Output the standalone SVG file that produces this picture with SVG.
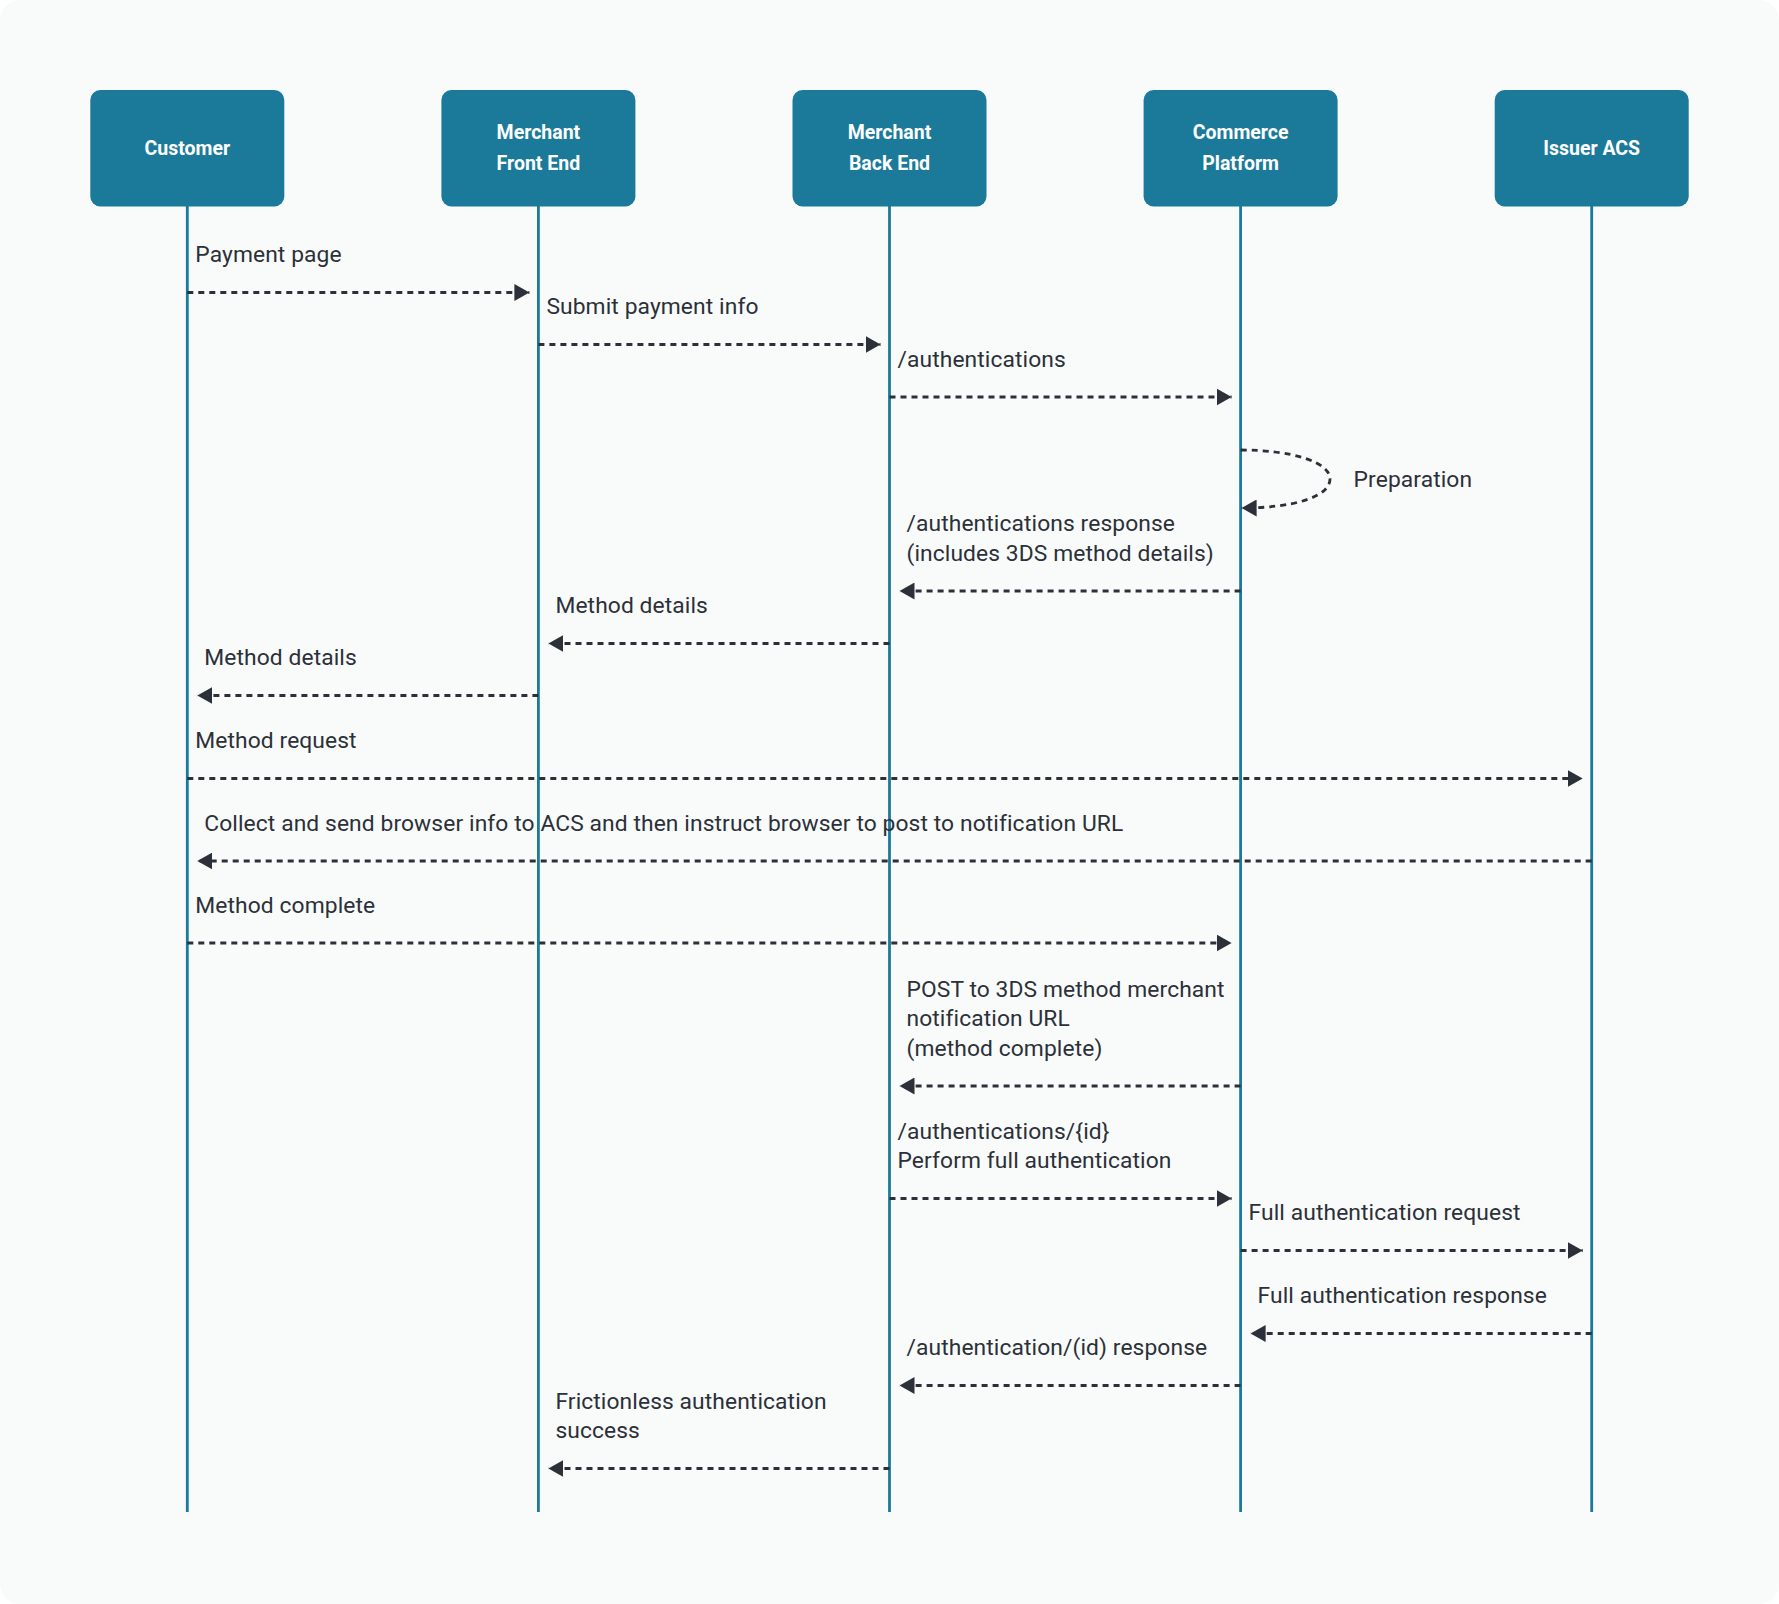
<svg xmlns="http://www.w3.org/2000/svg" width="1779" height="1604" viewBox="0 0 1779 1604">
<defs>
<marker id="ah" markerUnits="userSpaceOnUse" markerWidth="15" markerHeight="17" refX="15" refY="8.5" orient="auto">
<path d="M0,0 L15,8.5 L0,17 z" fill="#2c3038"/>
</marker>
<style>
.box{fill:#1b7a99}
.bt{font-family:Roboto,"Liberation Sans",sans-serif;font-weight:bold;font-size:19.5px;fill:#ffffff;text-anchor:middle}
.life{stroke:#1b7a99;stroke-width:2.8;fill:none}
.msg{stroke:#2c3038;stroke-width:2.8;stroke-dasharray:6 5;fill:none;marker-end:url(#ah)}
.lbl{font-family:Roboto,"Liberation Sans",sans-serif;font-size:22.8px;letter-spacing:0.1px;fill:#2c3038}
</style>
</defs>
<rect x="0" y="0" width="1779" height="1604" fill="#ffffff"/>
<rect x="0" y="0" width="1779" height="1604" rx="20" fill="#f9fbfb"/>

<g id="lifelines">
<line class="life" x1="187.3" y1="206" x2="187.3" y2="1512"/>
<line class="life" x1="538.4" y1="206" x2="538.4" y2="1512"/>
<line class="life" x1="889.5" y1="206" x2="889.5" y2="1512"/>
<line class="life" x1="1240.6" y1="206" x2="1240.6" y2="1512"/>
<line class="life" x1="1591.7" y1="206" x2="1591.7" y2="1512"/>
</g>

<g id="customer">
<rect class="box" x="90.3" y="90" width="194" height="116.5" rx="10"/>
<text class="bt" x="187.3" y="155">Customer</text>
</g>
<g id="merchant-front-end">
<rect class="box" x="441.4" y="90" width="194" height="116.5" rx="10"/>
<text class="bt" x="538.4" y="139">Merchant</text>
<text class="bt" x="538.4" y="169.5">Front End</text>
</g>
<g id="merchant-back-end">
<rect class="box" x="792.5" y="90" width="194" height="116.5" rx="10"/>
<text class="bt" x="889.5" y="139">Merchant</text>
<text class="bt" x="889.5" y="169.5">Back End</text>
</g>
<g id="commerce-platform">
<rect class="box" x="1143.6" y="90" width="194" height="116.5" rx="10"/>
<text class="bt" x="1240.6" y="139">Commerce</text>
<text class="bt" x="1240.6" y="169.5">Platform</text>
</g>
<g id="issuer-acs">
<rect class="box" x="1494.7" y="90" width="194" height="116.5" rx="10"/>
<text class="bt" x="1591.7" y="155">Issuer ACS</text>
</g>

<g id="connectors">
<line class="msg" x1="187.3" y1="292.5" x2="529.4" y2="292.5"/>
<line class="msg" x1="538.4" y1="344.5" x2="880.5" y2="344.5"/>
<line class="msg" x1="889.5" y1="397" x2="1231.6" y2="397"/>
<path class="msg" d="M1240.6,450 C1292,450 1330,462 1330,479 C1330,497 1293,508 1241.6,508"/>
<line class="msg" x1="1240.6" y1="591" x2="899.5" y2="591"/>
<line class="msg" x1="889.5" y1="643.5" x2="548.4" y2="643.5"/>
<line class="msg" x1="538.4" y1="695.5" x2="197.3" y2="695.5"/>
<line class="msg" x1="187.3" y1="778.5" x2="1582.7" y2="778.5"/>
<line class="msg" x1="1591.7" y1="861" x2="197.3" y2="861"/>
<line class="msg" x1="187.3" y1="943" x2="1231.6" y2="943"/>
<line class="msg" x1="1240.6" y1="1086" x2="899.5" y2="1086"/>
<line class="msg" x1="889.5" y1="1198.5" x2="1231.6" y2="1198.5"/>
<line class="msg" x1="1240.6" y1="1250.5" x2="1582.7" y2="1250.5"/>
<line class="msg" x1="1591.7" y1="1333.5" x2="1250.6" y2="1333.5"/>
<line class="msg" x1="1240.6" y1="1385.5" x2="899.5" y2="1385.5"/>
<line class="msg" x1="889.5" y1="1468.5" x2="548.4" y2="1468.5"/>
</g>

<g id="labels">
<text class="lbl" x="195.3" y="262">Payment page</text>
<text class="lbl" x="546.4" y="314">Submit payment info</text>
<text class="lbl" x="897.5" y="366.5">/authentications</text>
<text class="lbl" x="1353.6" y="487">Preparation</text>
<text class="lbl" x="906.5" y="531">/authentications response</text>
<text class="lbl" x="906.5" y="560.5">(includes 3DS method details)</text>
<text class="lbl" x="555.4" y="613">Method details</text>
<text class="lbl" x="204.3" y="665">Method details</text>
<text class="lbl" x="195.3" y="748">Method request</text>
<text class="lbl" x="204.3" y="830.5">Collect and send browser info to ACS and then instruct browser to post to notification URL</text>
<text class="lbl" x="195.3" y="912.5">Method complete</text>
<text class="lbl" x="906.5" y="996.5">POST to 3DS method merchant</text>
<text class="lbl" x="906.5" y="1026">notification URL</text>
<text class="lbl" x="906.5" y="1055.5">(method complete)</text>
<text class="lbl" x="897.5" y="1138.5">/authentications/{id}</text>
<text class="lbl" x="897.5" y="1168">Perform full authentication</text>
<text class="lbl" x="1248.6" y="1220">Full authentication request</text>
<text class="lbl" x="1257.6" y="1303">Full authentication response</text>
<text class="lbl" x="906.5" y="1355">/authentication/(id) response</text>
<text class="lbl" x="555.4" y="1408.5">Frictionless authentication</text>
<text class="lbl" x="555.4" y="1438">success</text>
</g>
</svg>
